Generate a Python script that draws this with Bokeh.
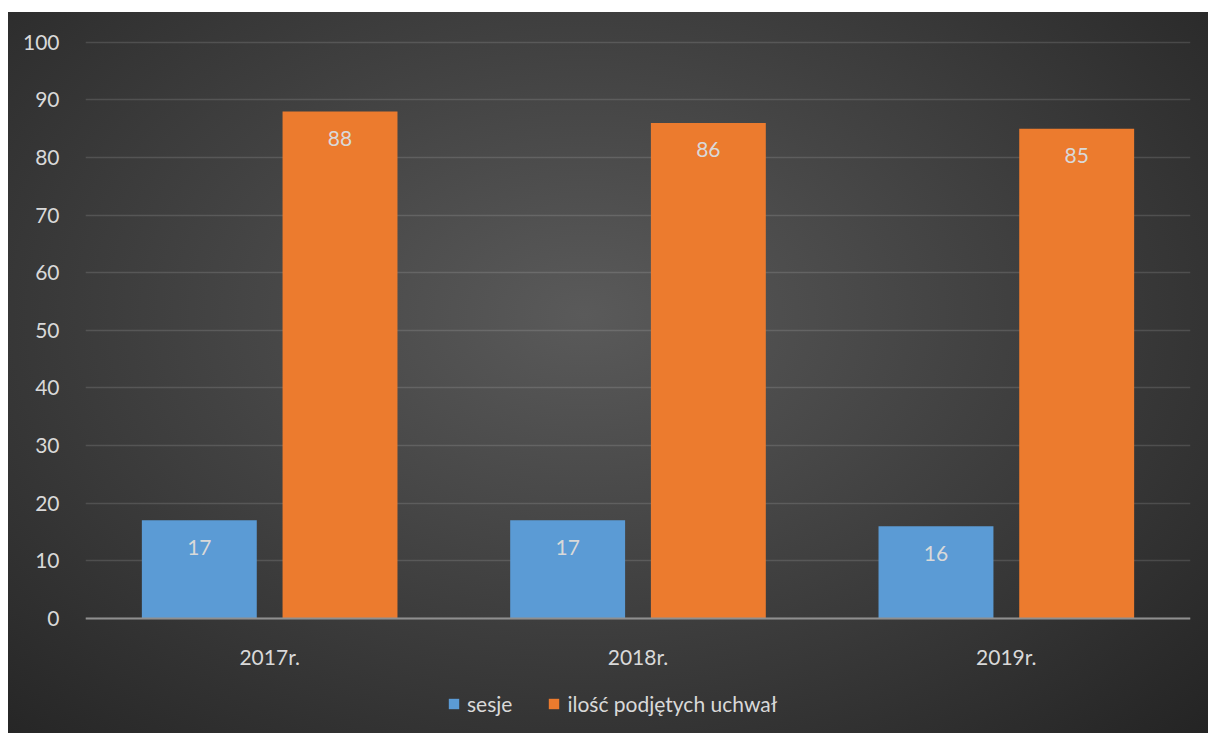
from bokeh.plotting import figure
from bokeh.models import ColumnDataSource, FactorRange, Legend, LegendItem, FixedTicker
from bokeh.transform import dodge
from bokeh.core.properties import value
from bokeh.embed import file_html
from bokeh.resources import INLINE

years = ["2017r.", "2018r.", "2019r."]
sesje = [17, 17, 16]
uchwaly = [88, 86, 85]
series_names = ["sesje", "ilość podjętych uchwał"]
y_ticks = [0, 10, 20, 30, 40, 50, 60, 70, 80, 90, 100]
colors = ["#5b9bd5", "#ec7b2e"]

FONT = "Lato"
TXT = "#d9d9d9"

src = ColumnDataSource(dict(years=years, sesje=sesje, uchwaly=uchwaly,
                            s_lbl=[str(v) for v in sesje],
                            u_lbl=[str(v) for v in uchwaly]))

p = figure(x_range=FactorRange(*years), y_range=(-20, 101),
           width=1200, height=721, output_backend="svg", toolbar_location=None,
           min_border_left=77, min_border_right=18, min_border_top=24, min_border_bottom=0)
p.margin = (12, 0, 0, 8)
p.styles = {"background": "radial-gradient(ellipse farthest-corner at 48% 42%, #5a5a5a 0%, #242424 100%)"}
p.border_fill_color = None
p.background_fill_color = None
p.outline_line_color = None

w = 0.312
rb = p.vbar(x=dodge("years", -0.191, range=p.x_range), top="sesje", bottom=0, width=w, source=src,
            fill_color=colors[0], line_color=None)
ro = p.vbar(x=dodge("years", 0.191, range=p.x_range), top="uchwaly", bottom=0, width=w, source=src,
            fill_color=colors[1], line_color=None)

p.text(x=dodge("years", -0.191, range=p.x_range), y="sesje", text="s_lbl", source=src,
       text_align="center", text_baseline="middle", y_offset=27,
       text_font=value(FONT), text_font_size="21px", text_color=TXT)
p.text(x=dodge("years", 0.191, range=p.x_range), y="uchwaly", text="u_lbl", source=src,
       text_align="center", text_baseline="middle", y_offset=27,
       text_font=value(FONT), text_font_size="21px", text_color=TXT)

# axes
p.yaxis.ticker = FixedTicker(ticks=y_ticks)
p.yaxis.axis_line_color = None
p.yaxis.major_tick_line_color = None
p.yaxis.minor_tick_line_color = None
p.yaxis.major_label_standoff = 20
p.yaxis.major_label_text_font = FONT
p.yaxis.major_label_text_font_size = "21px"
p.yaxis.major_label_text_color = TXT

p.xaxis.fixed_location = 0
p.xaxis.axis_line_color = "#8f8f8f"
p.xaxis.axis_line_width = 2
p.xaxis.major_tick_line_color = None
p.xaxis.minor_tick_line_color = None
p.xaxis.major_label_standoff = 20
p.xaxis.major_label_text_font = FONT
p.xaxis.major_label_text_font_size = "21px"
p.xaxis.major_label_text_color = TXT

p.xgrid.grid_line_color = None
p.ygrid.grid_line_color = "white"
p.ygrid.grid_line_alpha = 0.13
p.ygrid.grid_line_width = 1.5

legend = Legend(items=[LegendItem(label=series_names[0], renderers=[rb]),
                       LegendItem(label=series_names[1], renderers=[ro])],
                location=(362, 17), orientation="horizontal",
                background_fill_color=None, border_line_color=None,
                label_text_font=FONT, label_text_font_size="21px", label_text_color=TXT,
                glyph_width=13, glyph_height=13, label_standoff=7, spacing=35,
                padding=0, margin=0)
p.add_layout(legend, "center")

open("out.html", "w").write(file_html(p, INLINE))
